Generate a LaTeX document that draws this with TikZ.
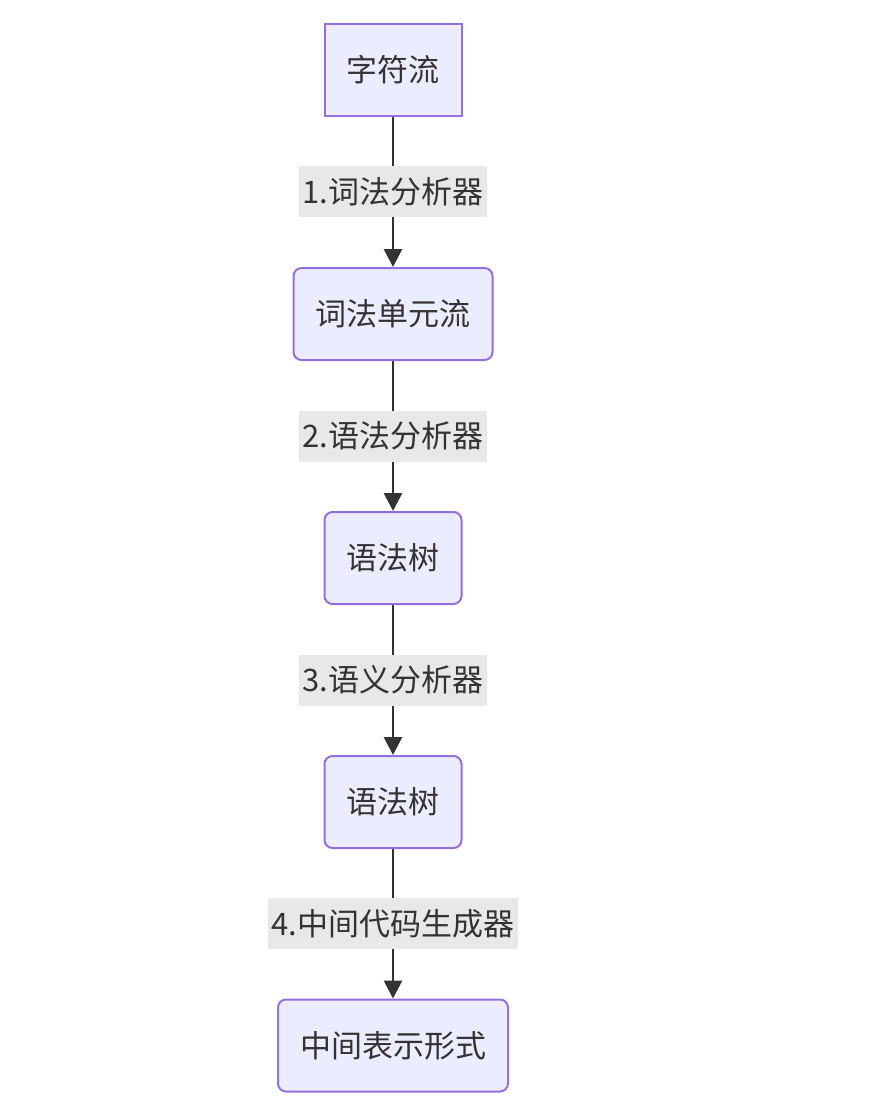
\documentclass[tikz,border=0pt]{standalone}
\usepackage{fontspec}
\setmainfont{Noto Sans CJK SC}
\usetikzlibrary{arrows.meta,positioning}
\definecolor{boxfill}{HTML}{ECECFF}
\definecolor{boxline}{HTML}{9370DB}
\definecolor{ink}{HTML}{333333}
\definecolor{lblfill}{HTML}{E8E8E8}
\tikzset{
  stage/.style={draw=boxline, fill=boxfill, line width=2pt, rounded corners=8pt,
    minimum height=92pt, inner xsep=22pt, text=ink,
    font=\fontsize{31pt}{36pt}\selectfont},
  flow/.style={draw=ink, line width=2.8pt, -{Triangle[length=18pt,width=18pt]}},
  lbl/.style={fill=lblfill, text=ink, minimum height=51pt, inner xsep=3.5pt,
    font=\fontsize{31pt}{36pt}\selectfont}
}
\begin{document}
\begin{tikzpicture}[x=1pt,y=-1pt]
    \useasboundingbox (0,0) rectangle (888,1106);
    \node[stage, rounded corners=0pt] (chars) at (393,69.5) {字符流};
    \node[stage] (tokens) at (393,314) {词法单元流};
    \node[stage] (tree1) at (393,558) {语法树};
    \node[stage] (tree2) at (393,802) {语法树};
    \node[stage] (ir) at (393,1045.5) {中间表示形式};
    \draw[flow] (chars) -- node[lbl] {1.词法分析器} (tokens);
    \draw[flow] (tokens) -- node[lbl] {2.语法分析器} (tree1);
    \draw[flow] (tree1) -- node[lbl] {3.语义分析器} (tree2);
    \draw[flow] (tree2) -- node[lbl] {4.中间代码生成器} (ir);
\end{tikzpicture}
\end{document}
